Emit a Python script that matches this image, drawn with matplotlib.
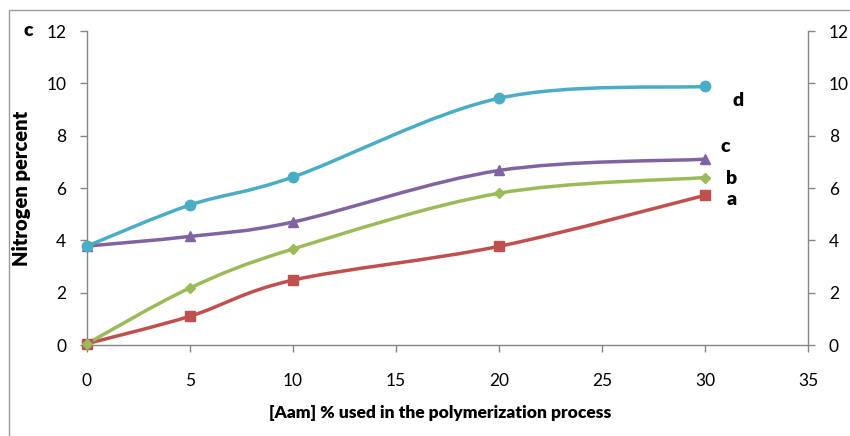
import numpy as np
import matplotlib
matplotlib.use("Agg")
from matplotlib import pyplot as plt
from matplotlib.path import Path
from matplotlib.patches import PathPatch, Rectangle

plt.rcParams['font.family'] = ['Lato', 'DejaVu Sans']

# data
aam = [0, 5, 10, 20, 30]
series_a = [0.05, 1.1, 2.48, 3.77, 5.72]
series_b = [0.05, 2.18, 3.67, 5.8, 6.4]
series_c = [3.78, 4.15, 4.7, 6.67, 7.1]
series_d = [3.78, 5.35, 6.42, 9.43, 9.88]
names = ["a", "b", "c", "d"]
label_pos = [(31.3, 5.56), (31.3, 6.36), (31.0, 7.57), (31.6, 9.35)]

colors = ["#C0504D", "#9BBB59", "#8064A2", "#4BACC6"]
markers = ["s", "D", "^", "o"]
msizes = [7.5, 5.5, 7.5, 7.5]


def smooth_path(xs, ys):
    # excel style smoothed line: catmull-rom segments as cubic bezier
    pts = np.column_stack([xs, ys]).astype(float)
    n = len(pts)
    verts = [pts[0]]
    codes = [Path.MOVETO]
    for i in range(n - 1):
        p0 = pts[i - 1] if i > 0 else pts[i]
        p1 = pts[i]
        p2 = pts[i + 1]
        p3 = pts[i + 2] if i + 2 < n else pts[i + 1]
        c1 = p1 + (p2 - p0) / 6.0
        c2 = p2 - (p3 - p1) / 6.0
        verts += [c1, c2, p2]
        codes += [Path.CURVE4] * 3
    return Path(verts, codes)


fig = plt.figure(figsize=(8.5, 4.36), dpi=100)
ax = fig.add_axes([87 / 850, 1 - 345 / 436, (808 - 87) / 850, (345 - 31) / 436])

all_series = [series_a, series_b, series_c, series_d]
for ys, col, mk, ms, nm, lp in zip(all_series, colors, markers, msizes, names, label_pos):
    patch = PathPatch(smooth_path(aam, ys), facecolor="none", edgecolor=col,
                      linewidth=2.5, capstyle="round", joinstyle="round", zorder=2)
    ax.add_patch(patch)
    ax.plot(aam, ys, linestyle="none", marker=mk, markersize=ms, color=col,
            markeredgecolor=col, zorder=3, clip_on=False)
    ax.text(lp[0], lp[1], nm, fontsize=14, fontweight="heavy", ha="center", va="center")

ax.set_xlim(0, 35)
ax.set_ylim(0, 12)
ax.set_xticks(np.arange(0, 36, 5))
ax.set_yticks(np.arange(0, 13, 2))

for side in ["left", "bottom", "right"]:
    ax.spines[side].set_color("#868686")
    ax.spines[side].set_linewidth(1)
ax.spines["top"].set_visible(False)
ax.tick_params(axis="both", direction="out", length=5, width=1, color="#868686",
               labelsize=12.5, labelcolor="#000000")
ax.tick_params(axis="y", right=True, labelright=True, pad=10)
ax.tick_params(axis="x", pad=15)

ax.set_ylabel("Nitrogen percent", fontsize=14.5, fontweight="heavy", labelpad=11)
fig.text(440 / 850, 1 - 413 / 436, "[Aam] % used in the polymerization process",
         fontsize=12.5, fontweight="heavy", ha="center", va="center")
fig.text(28 / 850, 1 - 31 / 436, "c", fontsize=14, fontweight="heavy",
         ha="center", va="center")

# outer frame (only the left and top edges fall inside the image)
fig.patches.append(Rectangle((8.5 / 850, -0.1), 1.2, 1.1 - 10.5 / 436,
                             transform=fig.transFigure, fill=False,
                             edgecolor="#9a9a9a", linewidth=1))

fig.savefig("out.png", dpi=100)
